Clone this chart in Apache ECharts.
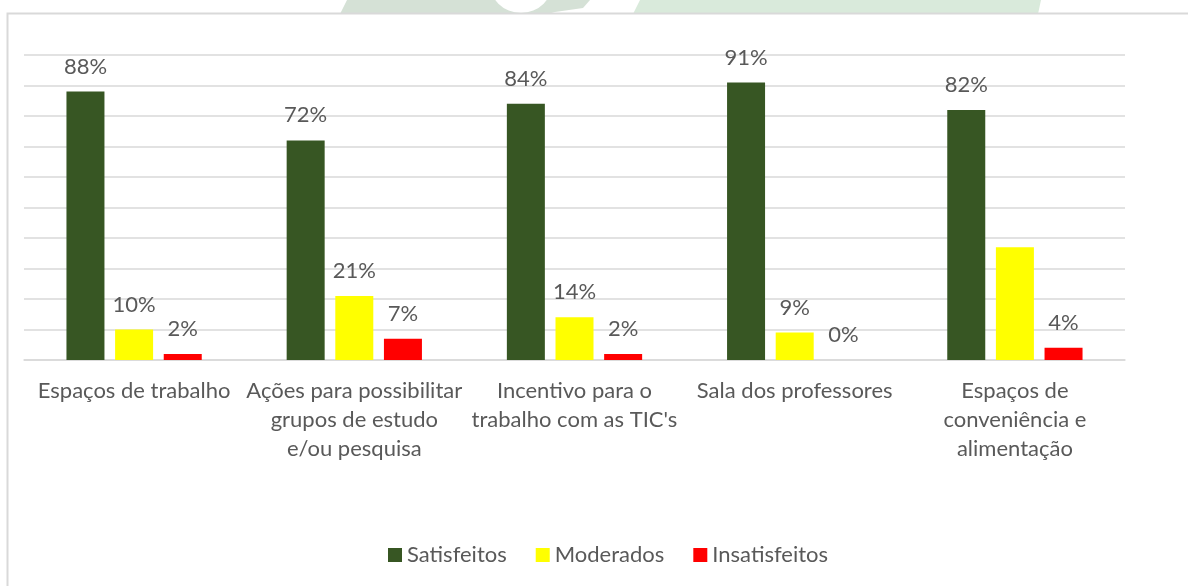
<!DOCTYPE html>
<html>
<head>
<meta charset="utf-8">
<script src="https://cdn.jsdelivr.net/npm/echarts@6/dist/echarts.min.js"></script>
<style>
  html, body { margin: 0; padding: 0; background: #ffffff; }
  #chart { width: 1188px; height: 586px; }
</style>
</head>
<body>
<div id="chart"></div>
<script>
// Categories (tick labels, with their line breaks)
const categories = [
  'Espaços de trabalho',
  'Ações para possibilitar\ngrupos de estudo\ne/ou pesquisa',
  'Incentivo para o\ntrabalho com as TIC\'s',
  'Sala dos professores',
  'Espaços de\nconveniência e\nalimentação'
];

// Percentages per group
const satisfeitos   = [88, 72, 84, 91, 82];
const moderados     = [10, 21, 14, 9, 37];
const insatisfeitos = [2, 7, 2, 0, 4];

// Which points carry a value label (the last "Moderados" bar has none)
const moderadosLabelShown = [true, true, true, true, false];

const seriesNames = ['Satisfeitos', 'Moderados', 'Insatisfeitos'];
const seriesColors = ['#375623', '#FFFF00', '#FF0000'];

const FONT = 'Lato, "Open Sans", sans-serif';
const TEXT_COLOR = '#595959';
const GRID_COLOR = '#d9d9d9';

const chart = echarts.init(document.getElementById('chart'), null, { renderer: 'canvas' });

const valueLabel = {
  show: true,
  position: 'top',
  distance: 14,
  color: TEXT_COLOR,
  fontFamily: FONT,
  fontSize: 22,
  formatter: p => p.value + '%'
};

function makeSeries(name, values, color, labelShown) {
  return {
    name: name,
    type: 'bar',
    barWidth: 38,
    barGap: '28%',
    itemStyle: { color: color },
    label: valueLabel,
    data: values.map((v, i) => (
      labelShown && !labelShown[i] ? { value: v, label: { show: false } } : v
    ))
  };
}

chart.setOption({
  animation: false,
  backgroundColor: '#ffffff',
  textStyle: { fontFamily: FONT },
  graphic: [
    // faint logo shapes behind the top edge of the frame
    {
      type: 'polygon', z: 0,
      shape: { points: [[340, 14], [347, 0], [590, 0], [583, 8], [555, 12], [548, 14]] },
      style: { fill: '#d5e1d6' }
    },
    {
      type: 'circle', z: 1,
      shape: { cx: 521, cy: -19, r: 32 },
      style: { fill: '#ffffff' }
    },
    {
      type: 'polygon', z: 0,
      shape: { points: [[633, 14], [640, 0], [1041, 0], [1038, 14]] },
      style: { fill: '#d9eadb' }
    },
    // chart frame
    {
      type: 'rect', z: 2,
      shape: { x: 7.5, y: 13.5, width: 1220, height: 620 },
      style: { fill: 'transparent', stroke: GRID_COLOR, lineWidth: 2 }
    }
  ],
  grid: {
    left: 24,
    right: 63,
    top: 55,
    bottom: 226,
    containLabel: false
  },
  legend: {
    data: seriesNames,
    left: 383,
    top: 539,
    icon: 'rect',
    itemWidth: 14,
    itemHeight: 14,
    itemGap: 29,
    textStyle: { color: TEXT_COLOR, fontFamily: FONT, fontSize: 22 }
  },
  xAxis: {
    type: 'category',
    data: categories,
    axisLine: { show: true, lineStyle: { color: GRID_COLOR, width: 1.5 } },
    axisTick: { show: false },
    axisLabel: {
      interval: 0,
      margin: 16,
      color: TEXT_COLOR,
      fontFamily: FONT,
      fontSize: 22,
      lineHeight: 29,
      align: 'center'
    }
  },
  yAxis: {
    type: 'value',
    min: 0,
    max: 100,
    interval: 10,
    axisLine: { show: false },
    axisTick: { show: false },
    axisLabel: { show: false },
    splitLine: { show: true, lineStyle: { color: GRID_COLOR, width: 1.5 } }
  },
  series: [
    makeSeries(seriesNames[0], satisfeitos, seriesColors[0]),
    makeSeries(seriesNames[1], moderados, seriesColors[1], moderadosLabelShown),
    makeSeries(seriesNames[2], insatisfeitos, seriesColors[2])
  ]
});
</script>
</body>
</html>
